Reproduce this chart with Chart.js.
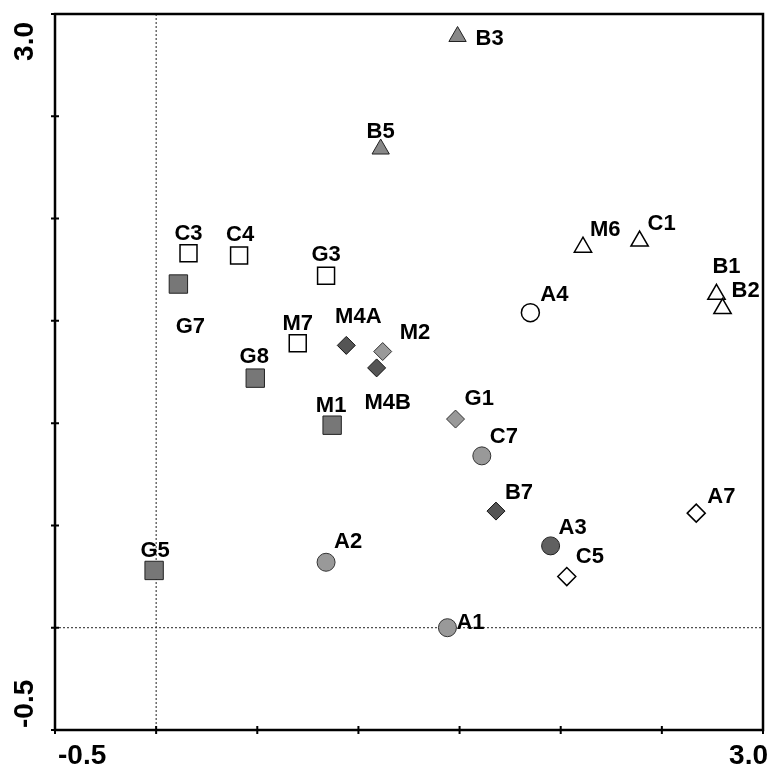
<!DOCTYPE html>
<html lang="en">
<head>
<meta charset="UTF-8">
<title>Ordination scores</title>
<script src="https://cdn.jsdelivr.net/npm/chart.js"></script>
<style>
  html, body { margin: 0; background: #fff; overflow: hidden; }
  .wrap { width: 777px; height: 775px; position: relative; }
</style>
</head>
<body>
<div class="wrap"><canvas id="plot"></canvas></div>
<script>
// sample scores (axis 1 / axis 2)
const samples = ['C3', 'C4', 'G3', 'M7', 'G7', 'G8', 'M1', 'G5', 'B3', 'B5', 'M6', 'C1', 'B1', 'B2',
                 'A4', 'C7', 'A2', 'A1', 'A3', 'M4A', 'M4B', 'B7', 'M2', 'G1', 'A7', 'C5'];
const axis1 = [0.16, 0.41, 0.84, 0.70, 0.11, 0.49, 0.87, -0.01, 1.49, 1.11, 2.11, 2.39, 2.77, 2.80,
               1.85, 1.61, 0.84, 1.44, 1.95, 0.94, 1.09, 1.68, 1.12, 1.48, 2.67, 2.03];
const axis2 = [1.83, 1.82, 1.72, 1.39, 1.68, 1.22, 0.99, 0.28, 2.89, 2.34, 1.86, 1.89, 1.63, 1.56,
               1.54, 0.84, 0.32, 0.00, 0.40, 1.38, 1.27, 0.57, 1.35, 1.02, 0.56, 0.25];
// symbol group of each sample
const groups = ['openSquare', 'openSquare', 'openSquare', 'openSquare',
                'graySquare', 'graySquare', 'graySquare', 'graySquare',
                'grayTriangle', 'grayTriangle',
                'openTriangle', 'openTriangle', 'openTriangle', 'openTriangle',
                'openCircle', 'lightCircle', 'lightCircle', 'lightCircle', 'darkCircle',
                'darkDiamond', 'darkDiamond', 'darkDiamond', 'lightDiamond', 'lightDiamond',
                'openDiamond', 'openDiamond'];
const axisMin = -0.5;
const axisMax = 3.0;

// marker look per group
const groupStyles = {
  openSquare:   { pointStyle: 'rect',     radius: 12, bg: '#ffffff', border: '#000', bw: 1.5 },
  graySquare:   { pointStyle: 'rect',     radius: 13, bg: '#777777', border: '#222', bw: 1 },
  grayTriangle: { pointStyle: 'triangle', radius: 10, bg: '#888888', border: '#222', bw: 1 },
  openTriangle: { pointStyle: 'triangle', radius: 10, bg: '#ffffff', border: '#000', bw: 1.5 },
  openCircle:   { pointStyle: 'circle',   radius: 9,  bg: '#ffffff', border: '#000', bw: 1.5 },
  lightCircle:  { pointStyle: 'circle',   radius: 9,  bg: '#999999', border: '#333', bw: 1 },
  darkCircle:   { pointStyle: 'circle',   radius: 9,  bg: '#606060', border: '#222', bw: 1 },
  darkDiamond:  { pointStyle: 'rectRot',  radius: 9,  bg: '#555555', border: '#111', bw: 1 },
  lightDiamond: { pointStyle: 'rectRot',  radius: 9,  bg: '#999999', border: '#333', bw: 1 },
  openDiamond:  { pointStyle: 'rectRot',  radius: 9,  bg: '#ffffff', border: '#000', bw: 1.5 }
};

// where each name sits relative to its marker: [align, dx, dy]
const labelPlacement = {
  B3: ['left', 18, 0],    B5: ['center', 0, -19],  M6: ['left', 7, -19],   C1: ['left', 8, -19],
  B1: ['center', 10, -29], B2: ['left', 9, -20],   A4: ['left', 10, -20],  A7: ['left', 11, -18],
  C3: ['center', 0, -21], C4: ['center', 1, -22],  G3: ['center', 0, -23], G7: ['center', 12, 41],
  M7: ['center', 0, -21], M4A: ['center', 12, -30], M2: ['left', 17, -21], M4B: ['center', 11, 33],
  G8: ['center', -1, -23], M1: ['center', -1, -21], G1: ['left', 9, -22],  C7: ['left', 8, -21],
  B7: ['left', 9, -20],   A3: ['left', 8, -20],    C5: ['left', 9, -22],   A2: ['left', 8, -22],
  A1: ['left', 9, -7],    G5: ['center', 1, -21]
};

const FONT = '"Liberation Sans", Arial, sans-serif';

const datasets = Object.keys(groupStyles).map(g => {
  const s = groupStyles[g];
  const pts = [];
  samples.forEach((name, i) => {
    if (groups[i] === g) pts.push({ x: axis1[i], y: axis2[i], name: name });
  });
  return {
    label: g,
    data: pts,
    pointStyle: s.pointStyle,
    pointRadius: s.radius,
    pointBackgroundColor: s.bg,
    pointBorderColor: s.border,
    pointBorderWidth: s.bw,
    showLine: false
  };
});

// frame, dotted zero lines, tick marks and the end labels of both axes
const framePlugin = {
  id: 'frame',
  beforeDatasetsDraw(chart) {
    const { ctx, chartArea: a, scales: { x, y } } = chart;
    ctx.save();
    ctx.strokeStyle = '#222';
    ctx.lineWidth = 1;
    ctx.setLineDash([2, 2]);
    const x0 = x.getPixelForValue(0);
    const y0 = y.getPixelForValue(0);
    ctx.beginPath();
    ctx.moveTo(x0, a.top); ctx.lineTo(x0, a.bottom);
    ctx.moveTo(a.left, y0); ctx.lineTo(a.right, y0);
    ctx.stroke();
    ctx.setLineDash([]);

    ctx.strokeStyle = '#000';
    ctx.lineWidth = 2.5;
    ctx.strokeRect(a.left, a.top, a.width, a.height);

    ctx.lineWidth = 2;
    ctx.beginPath();
    x.ticks.forEach(t => {
      const px = x.getPixelForValue(t.value);
      ctx.moveTo(px, a.bottom - 4); ctx.lineTo(px, a.bottom + 4);
    });
    y.ticks.forEach(t => {
      const py = y.getPixelForValue(t.value);
      ctx.moveTo(a.left - 4, py); ctx.lineTo(a.left + 4, py);
    });
    ctx.stroke();

    ctx.fillStyle = '#000';
    ctx.font = 'bold 28px ' + FONT;
    // x axis: only the two ends are labelled
    ctx.textBaseline = 'middle';
    const ly = a.bottom + 26;
    ctx.textAlign = 'left';
    ctx.fillText(axisMin.toFixed(1), x.getPixelForValue(axisMin) + 3, ly);
    ctx.textAlign = 'right';
    ctx.fillText(axisMax.toFixed(1), x.getPixelForValue(axisMax) + 5, ly);

    // y axis: rotated end labels
    const lx = a.left - 30;
    ctx.save();
    ctx.translate(lx, y.getPixelForValue(axisMax) + 8);
    ctx.rotate(-Math.PI / 2);
    ctx.textAlign = 'right';
    ctx.fillText(axisMax.toFixed(1), 0, 0);
    ctx.restore();
    ctx.save();
    ctx.translate(lx, y.getPixelForValue(axisMin) - 2);
    ctx.rotate(-Math.PI / 2);
    ctx.textAlign = 'left';
    ctx.fillText(axisMin.toFixed(1), 0, 0);
    ctx.restore();
    ctx.restore();
  },
  afterDatasetsDraw(chart) {
    const ctx = chart.ctx;
    ctx.save();
    ctx.fillStyle = '#000';
    ctx.font = 'bold 22px ' + FONT;
    ctx.textBaseline = 'alphabetic';
    chart.data.datasets.forEach((ds, i) => {
      chart.getDatasetMeta(i).data.forEach((pt, j) => {
        const name = ds.data[j].name;
        const [align, dx, dy] = labelPlacement[name];
        ctx.textAlign = align;
        ctx.fillText(name, pt.x + dx, pt.y + dy + 8);
      });
    });
    ctx.restore();
  }
};

new Chart(document.getElementById('plot'), {
  type: 'scatter',
  data: { datasets: datasets },
  options: {
    responsive: true,
    maintainAspectRatio: false,
    animation: false,
    events: [],
    layout: { padding: { top: 13, right: 7, left: 0, bottom: 0 } },
    plugins: { legend: { display: false }, tooltip: { enabled: false } },
    scales: {
      x: {
        type: 'linear',
        min: axisMin,
        max: axisMax,
        grid: { display: false },
        border: { display: false },
        afterFit: s => { s.height = 45; },
        ticks: { stepSize: 0.5, display: false }
      },
      y: {
        type: 'linear',
        min: axisMin,
        max: axisMax,
        grid: { display: false },
        border: { display: false },
        afterFit: s => { s.width = 55; },
        ticks: { stepSize: 0.5, display: false }
      }
    }
  },
  plugins: [framePlugin]
});
</script>
</body>
</html>
